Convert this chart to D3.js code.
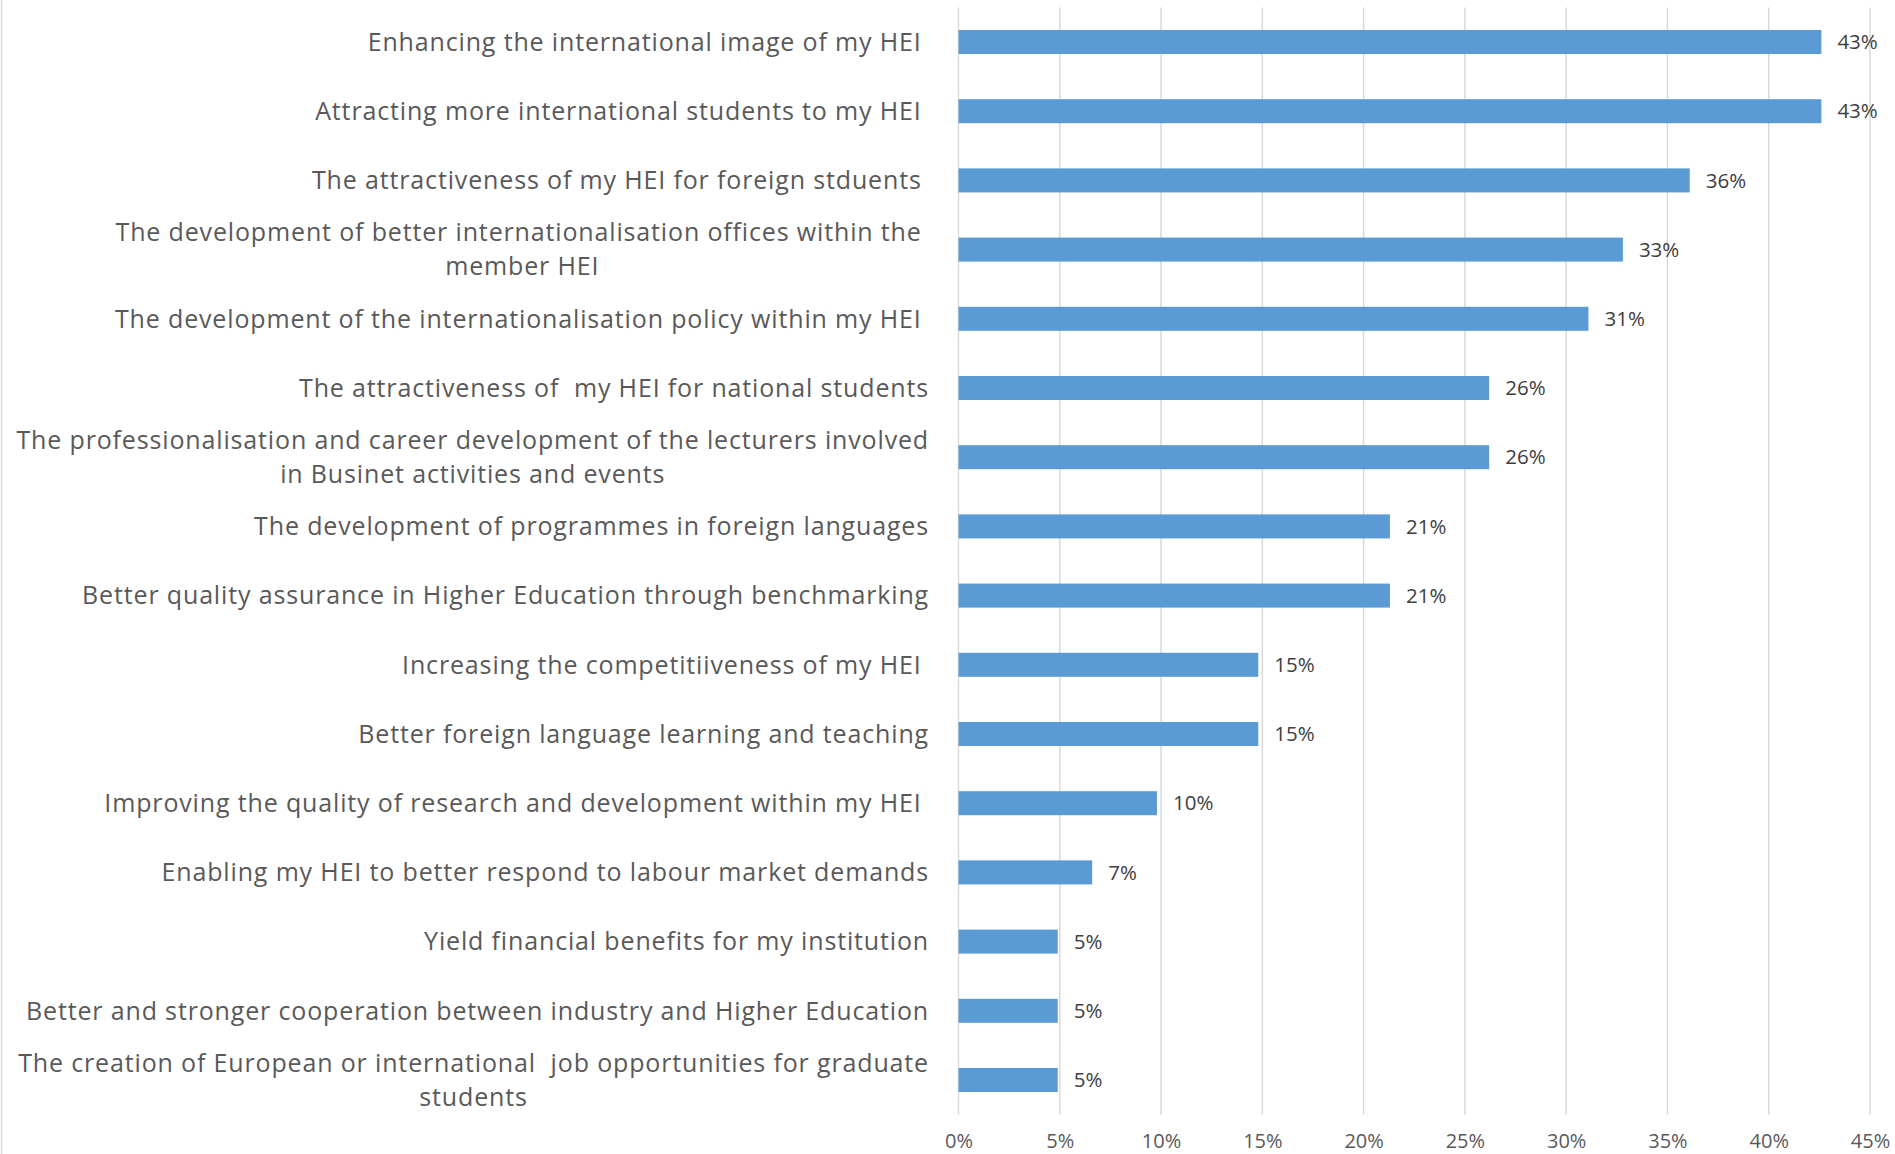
<!DOCTYPE html>
<html>
<head>
<meta charset="utf-8">
<script src="https://cdn.jsdelivr.net/npm/d3@7"></script>
<style>
  html, body { margin: 0; padding: 0; background: #ffffff; }
  svg { display: block; }
  text { white-space: pre; }
</style>
</head>
<body>
<svg id="chart" width="1895" height="1154"></svg>
<script>
// ---- data ----
const categories = [
  ["Enhancing the international image of my HEI "],
  ["Attracting more international students to my HEI "],
  ["The attractiveness of my HEI for foreign stduents "],
  ["The development of better internationalisation offices within the ", "member HEI"],
  ["The development of the internationalisation policy within my HEI "],
  ["The attractiveness of  my HEI for national students"],
  ["The professionalisation and career development of the lecturers involved", "in Businet activities and events"],
  ["The development of programmes in foreign languages"],
  ["Better quality assurance in Higher Education through benchmarking"],
  ["Increasing the competitiiveness of my HEI "],
  ["Better foreign language learning and teaching"],
  ["Improving the quality of research and development within my HEI "],
  ["Enabling my HEI to better respond to labour market demands"],
  ["Yield financial benefits for my institution"],
  ["Better and stronger cooperation between industry and Higher Education"],
  ["The creation of European or international  job opportunities for graduate", "students"]
];
const values = [42.6, 42.6, 36.1, 32.8, 31.1, 26.2, 26.2, 21.3, 21.3, 14.8, 14.8, 9.8, 6.6, 4.9, 4.9, 4.9];
const valueLabels = ["43%", "43%", "36%", "33%", "31%", "26%", "26%", "21%", "21%", "15%", "15%", "10%", "7%", "5%", "5%", "5%"];
const tickValues = [0, 5, 10, 15, 20, 25, 30, 35, 40, 45];
const tickLabels = ["0%", "5%", "10%", "15%", "20%", "25%", "30%", "35%", "40%", "45%"];

// ---- layout ----
const svg = d3.select("#chart");
const plot = { left: 958.5, right: 1870, top: 7.4, bottom: 1114.6 };
const labelRight = 929;
const lineHeight = 34;
const FONT = "'Open Sans', 'Noto Sans', sans-serif";

const ids = categories.map((c, i) => i);
const x = d3.scaleLinear().domain([0, 45]).range([plot.left, plot.right]);
const y = d3.scaleBand().domain(ids).range([plot.top, plot.bottom])
  .paddingInner(0.653).paddingOuter(0.653 / 2);

// left border of chart area
svg.append("line")
  .attr("x1", 1.5).attr("x2", 1.5).attr("y1", 0).attr("y2", 1154)
  .attr("stroke", "#d9d9d9").attr("stroke-width", 1.5);

// gridlines
svg.append("g").selectAll("line").data(tickValues).join("line")
  .attr("x1", d => x(d)).attr("x2", d => x(d))
  .attr("y1", plot.top).attr("y2", plot.bottom)
  .attr("stroke", "#d9d9d9").attr("stroke-width", 1.5);

// x axis tick labels
const xAxis = d3.axisBottom(x).tickValues(tickValues)
  .tickFormat((d, i) => tickLabels[i]).tickSize(0).tickPadding(0);
const gx = svg.append("g").attr("transform", `translate(0,${plot.bottom})`).call(xAxis);
gx.select(".domain").remove();
gx.selectAll("text")
  .attr("y", 26).attr("dy", "0.35em")
  .attr("fill", "#595959")
  .style("font-family", FONT).style("font-size", "20px");

// bars
svg.append("g").selectAll("rect").data(ids).join("rect")
  .attr("x", x(0))
  .attr("y", d => y(d))
  .attr("width", d => x(values[d]) - x(0))
  .attr("height", y.bandwidth())
  .attr("fill", "#5b9bd5");

// value labels
svg.append("g").selectAll("text").data(ids).join("text")
  .attr("x", d => x(values[d]) + 16)
  .attr("y", d => y(d) + y.bandwidth() / 2)
  .attr("dy", "0.35em")
  .attr("fill", "#404040")
  .style("font-family", FONT).style("font-size", "20.5px")
  .text(d => valueLabels[d]);

// category labels (right aligned block, lines centered within block)
const gl = svg.append("g");
ids.forEach(i => {
  const lines = categories[i];
  const cy = y(i) + y.bandwidth() / 2;
  const t = gl.append("text")
    .attr("fill", "#595959")
    .style("font-family", FONT).style("font-size", "25px")
    .style("letter-spacing", "0.85px");
  const spans = lines.map((ln, k) => t.append("tspan")
    .attr("y", cy + (k - (lines.length - 1) / 2) * lineHeight)
    .attr("dy", "0.35em")
    .text(ln));
  const widths = spans.map(s => s.node().getComputedTextLength());
  const maxW = d3.max(widths);
  const cx = labelRight - maxW / 2;
  spans.forEach(s => s.attr("x", cx).attr("text-anchor", "middle"));
});
</script>
</body>
</html>
